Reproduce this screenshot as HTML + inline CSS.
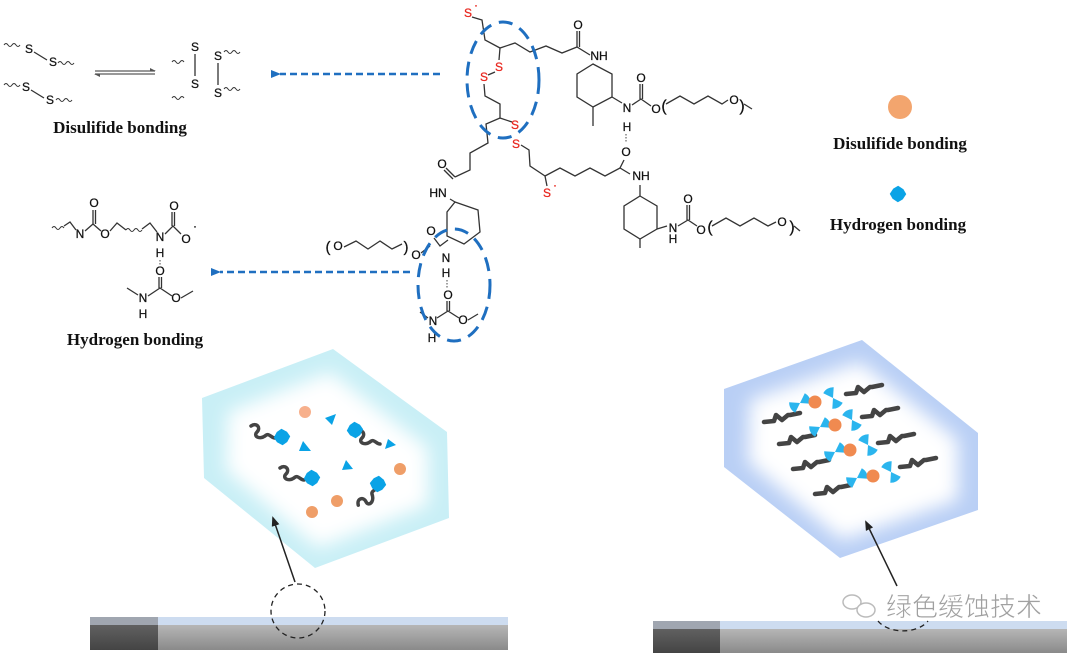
<!DOCTYPE html>
<html><head><meta charset="utf-8"><style>
html,body{margin:0;padding:0;background:#fff}
svg{display:block}
.c{font-family:"Liberation Sans",sans-serif;font-size:12px;fill:#111;text-anchor:middle;stroke:#111;stroke-width:0.25}
.r{fill:#e8241c;stroke:#e8241c}
.lbl{font-family:"Liberation Serif",serif;font-weight:bold;font-size:17px;fill:#111;text-anchor:middle}
.b{fill:none;stroke:#333;stroke-width:1.3}
.w{fill:none;stroke:#333;stroke-width:1}
</style></head><body>
<svg width="1080" height="655" viewBox="0 0 1080 655" xmlns="http://www.w3.org/2000/svg">
<defs>
<filter id="bl" x="-20%" y="-20%" width="140%" height="140%"><feGaussianBlur stdDeviation="9"/></filter>
<linearGradient id="bar" x1="0" y1="0" x2="0" y2="1">
<stop offset="0" stop-color="#c4c4c4"/><stop offset="1" stop-color="#8a8a8a"/></linearGradient>
<linearGradient id="barD" x1="0" y1="0" x2="0" y2="1">
<stop offset="0" stop-color="#6a6a6a"/><stop offset="1" stop-color="#444"/></linearGradient>
<marker id="ab" markerUnits="userSpaceOnUse" markerWidth="10" markerHeight="8" refX="1" refY="4" orient="auto"><path d="M10,0 L0,4 L10,8 z" fill="#1f6fc0"/></marker>
<marker id="ak" markerUnits="userSpaceOnUse" markerWidth="10" markerHeight="8" refX="8" refY="4" orient="auto"><path d="M0,0 L10,4 L0,8 z" fill="#222"/></marker>
<g id="blob"><path d="M-6,-4 L-2,-8 L4,-6 L8,-2 L6,4 L2,8 L-4,6 L-8,2 z" fill="#0aa3e6"/></g>
<g id="sq"><path d="M-12,-6 C-6,-10 -2,-4 -6,0 C-10,4 -4,8 2,4 C6,0 8,6 12,6" fill="none" stroke="#444" stroke-width="3.5" stroke-linecap="round"/></g>
<g id="sq2"><path d="M-18,4 L-8,3 L-6,-3 L0,2 L6,-3 L8,-3 L18,-5" fill="none" stroke="#444" stroke-width="4.5" stroke-linejoin="round" stroke-linecap="round"/></g>
<g id="bow"><path d="M0,0 L-9,-6 A11,11 0 0 0 -9,6 z M0,0 L9,-6 A11,11 0 0 1 9,6 z" fill="#2bb5ee"/></g>
</defs>

<!-- Left top: disulfide -->
<g>
<path class="w" d="M4,45 q2,-3 4,0 q2,3 4,0 q2,-3 4,0 q2,3 4,0"/>
<text class="c" x="29" y="53">S</text><line class="b" x1="34" y1="52" x2="47" y2="60"/><text class="c" x="53" y="66">S</text>
<path class="w" d="M58,63 q2,-3 4,0 q2,3 4,0 q2,-3 4,0 q2,3 4,0"/>
<path class="w" d="M4,85 q2,-3 4,0 q2,3 4,0 q2,-3 4,0 q2,3 4,0"/>
<text class="c" x="26" y="91">S</text><line class="b" x1="31" y1="90" x2="44" y2="98"/><text class="c" x="50" y="104">S</text>
<path class="w" d="M56,100 q2,-3 4,0 q2,3 4,0 q2,-3 4,0 q2,3 4,0"/>
<line x1="95" y1="71" x2="155" y2="71" stroke="#777" stroke-width="1.5"/>
<line x1="95" y1="74" x2="155" y2="74" stroke="#777" stroke-width="1.5"/>
<path d="M150,68 L156,71 L150,71z M100,77 L94,74 L100,74z" fill="#555"/>
<path class="w" d="M172,62 q2,-3 4,0 q2,3 4,0 q2,-3 4,0"/>
<text class="c" x="195" y="51">S</text><line class="b" x1="195" y1="54" x2="195" y2="76"/><text class="c" x="195" y="88">S</text>
<path class="w" d="M172,98 q2,-3 4,0 q2,3 4,0 q2,-3 4,0"/>
<text class="c" x="218" y="60">S</text><line class="b" x1="218" y1="63" x2="218" y2="85"/><text class="c" x="218" y="97">S</text>
<path class="w" d="M224,52 q2,-3 4,0 q2,3 4,0 q2,-3 4,0 q2,3 4,0"/>
<path class="w" d="M224,89 q2,-3 4,0 q2,3 4,0 q2,-3 4,0 q2,3 4,0"/>
<text class="lbl" x="120" y="133">Disulifide bonding</text>
</g>

<!-- Left: hydrogen bonding structure -->
<g>
<path class="w" d="M52,228 q2,-3 4,0 q2,3 4,0 q2,-3 4,0"/>
<polyline class="b" points="64,226 70,222 76,230"/>
<text class="c" x="80" y="238">N</text>
<polyline class="b" points="85,231 93,224 101,231"/><line class="b" x1="93" y1="224" x2="93" y2="210"/><line class="b" x1="95.5" y1="224" x2="95.5" y2="210"/>
<text class="c" x="94" y="207">O</text><text class="c" x="105" y="238">O</text>
<polyline class="b" points="110,231 117,223 126,230"/>
<path class="w" d="M126,230 q2,-3 4,0 q2,3 4,0 q2,-3 4,0 q2,3 4,0"/>
<polyline class="b" points="142,229 150,223 157,232"/>
<text class="c" x="160" y="241">N</text>
<polyline class="b" points="165,234 173,226 181,234"/><line class="b" x1="172" y1="226" x2="172" y2="212"/><line class="b" x1="174.5" y1="226" x2="174.5" y2="212"/>
<text class="c" x="174" y="210">O</text><text class="c" x="186" y="243">O</text><text class="c" x="195" y="230">·</text>
<text class="c" x="160" y="257">H</text>
<line x1="160" y1="260" x2="160" y2="266" stroke="#444" stroke-dasharray="1.5,1.5"/>
<text class="c" x="160" y="275">O</text>
<line class="b" x1="159" y1="277" x2="159" y2="288"/><line class="b" x1="161.5" y1="277" x2="161.5" y2="288"/>
<polyline class="b" points="148,296 160,288 172,296"/>
<polyline class="b" points="127,288 138,295"/>
<text class="c" x="143" y="302">N</text><text class="c" x="143" y="318">H</text>
<text class="c" x="176" y="302">O</text><line class="b" x1="181" y1="298" x2="193" y2="291"/>
<text class="lbl" x="135" y="345">Hydrogen bonding</text>
</g>

<!-- blue dashed arrows -->
<line x1="440" y1="74" x2="280" y2="74" stroke="#1f6fc0" stroke-width="2.5" stroke-dasharray="7,4" marker-end="url(#ab)"/>
<line x1="410" y1="272" x2="220" y2="272" stroke="#1f6fc0" stroke-width="2.5" stroke-dasharray="7,4" marker-end="url(#ab)"/>

<!-- Central molecule -->
<g>
<text class="c r" x="468" y="17">S</text><text class="c r" x="476" y="9">·</text>
<polyline class="b" points="472,17 482,20 485,40 500,48 515,43 530,52 546,46 562,53 577,47 590,55"/>
<line class="b" x1="577" y1="47" x2="577" y2="31"/><line class="b" x1="579.5" y1="47" x2="579.5" y2="31"/>
<text class="c" x="578" y="29">O</text>
<text class="c" x="599" y="60">NH</text>
<polygon class="b" points="593,64 612,74 612,97 593,107 577,97 577,74"/>
<line class="b" x1="593" y1="107" x2="593" y2="126"/>
<line class="b" x1="612" y1="97" x2="622" y2="103"/>
<text class="c" x="627" y="112">N</text>
<polyline class="b" points="632,105 641,99 651,106"/><line class="b" x1="640" y1="99" x2="640" y2="84"/><line class="b" x1="642.5" y1="99" x2="642.5" y2="84"/>
<text class="c" x="641" y="82">O</text><text class="c" x="656" y="113">O</text>
<text class="c" x="664" y="111" style="font-size:16px">(</text>
<polyline class="b" points="666,104 680,96 694,104 708,96 722,104 728,100"/>
<text class="c" x="734" y="104">O</text><text class="c" x="742" y="111" style="font-size:16px">)</text>
<line class="b" x1="744" y1="104" x2="752" y2="109"/>
<text class="c" x="627" y="131">H</text>
<line x1="626" y1="134" x2="626" y2="143" stroke="#444" stroke-dasharray="1.5,1.5"/>
<text class="c" x="626" y="156">O</text>
<line class="b" x1="500" y1="48" x2="499" y2="60"/>
<text class="c r" x="499" y="71">S</text><line class="b" x1="495" y1="72" x2="488" y2="75"/><text class="c r" x="484" y="81">S</text>
<polyline class="b" points="484,84 485,96 500,104 500,118 512,122"/>
<text class="c r" x="515" y="129">S</text><text class="c r" x="516" y="148">S</text>
<polyline class="b" points="521,145 529,150 530,166 545,176 547,186"/>
<text class="c r" x="547" y="197">S</text><text class="c r" x="555" y="189">·</text>
<polyline class="b" points="545,176 560,168 575,176 590,168 605,176 620,168 630,174"/>
<line class="b" x1="620" y1="168" x2="624" y2="160"/>
<text class="c" x="641" y="180">NH</text>
<polygon class="b" points="640,196 657,206 657,229 640,239 624,229 624,206"/>
<line class="b" x1="640" y1="185" x2="640" y2="196"/>
<line class="b" x1="640" y1="239" x2="640" y2="248"/>
<line class="b" x1="657" y1="229" x2="667" y2="226"/>
<text class="c" x="673" y="232">N</text><text class="c" x="673" y="243">H</text>
<polyline class="b" points="678,226 688,220 697,226"/><line class="b" x1="687" y1="220" x2="687" y2="205"/><line class="b" x1="689.5" y1="220" x2="689.5" y2="205"/>
<text class="c" x="688" y="203">O</text><text class="c" x="701" y="234">O</text>
<text class="c" x="710" y="232" style="font-size:16px">(</text>
<polyline class="b" points="712,226 726,218 740,226 754,218 768,226 776,222"/>
<text class="c" x="782" y="226">O</text><text class="c" x="792" y="232" style="font-size:16px">)</text>
<line class="b" x1="794" y1="226" x2="800" y2="231"/>
<polyline class="b" points="500,118 486,124 488,143 470,153 470,170 455,177"/>
<line class="b" x1="455" y1="177" x2="446" y2="168"/><line class="b" x1="453" y1="179" x2="444" y2="170"/>
<text class="c" x="442" y="168">O</text>
<text class="c" x="438" y="197">HN</text>
<line class="b" x1="450" y1="199" x2="455" y2="202"/>
<polygon class="b" points="455,202 478,210 480,232 464,244 447,236 447,212"/>
<text class="c" x="431" y="235">O</text>
<polyline class="b" points="434,238 440,246 448,240"/>
<text class="c" x="446" y="262">N</text><text class="c" x="446" y="277">H</text>
<line x1="447" y1="280" x2="447" y2="288" stroke="#444" stroke-dasharray="1.5,1.5"/>
<text class="c" x="448" y="299">O</text>
<line class="b" x1="447" y1="301" x2="447" y2="311"/><line class="b" x1="449.5" y1="301" x2="449.5" y2="311"/>
<polyline class="b" points="437,318 448,311 459,318"/>
<text class="c" x="433" y="325">N</text><text class="c" x="432" y="342">H</text><line class="b" x1="420" y1="312" x2="428" y2="318"/>
<text class="c" x="463" y="324">O</text><line class="b" x1="468" y1="320" x2="478" y2="314"/>
<text class="c" x="328" y="252" style="font-size:15px">(</text>
<text class="c" x="338" y="250">O</text>
<polyline class="b" points="344,247 356,241 368,249 380,241 392,249 402,244"/>
<text class="c" x="406" y="252" style="font-size:15px">)</text>
<text class="c" x="416" y="259">O</text>
<line class="b" x1="421" y1="253" x2="430" y2="246"/>
</g>
<ellipse cx="503" cy="80" rx="36" ry="58" fill="none" stroke="#1f6fc0" stroke-width="3" stroke-dasharray="14,8"/>
<ellipse cx="454" cy="285" rx="36" ry="56" fill="none" stroke="#1f6fc0" stroke-width="3" stroke-dasharray="14,8"/>

<!-- Legend -->
<circle cx="900" cy="107" r="12" fill="#f3a56e"/>
<text class="lbl" x="900" y="149">Disulifide bonding</text>
<g transform="translate(898,194) rotate(15)"><use href="#blob"/></g>
<text class="lbl" x="898" y="230">Hydrogen bonding</text>

<!-- Left cube -->
<polygon points="202,398 333,349 447,432 449,518 315,568 204,478" fill="#c9eff6"/>
<polygon points="228,412 330,372 428,448 428,505 318,548 226,470" fill="#fff" filter="url(#bl)"/>
<g>
<circle cx="305" cy="412" r="6" fill="#f7b08c"/><circle cx="400" cy="469" r="6" fill="#ef9e68"/>
<circle cx="337" cy="501" r="6" fill="#ef9e68"/><circle cx="312" cy="512" r="6" fill="#ef9e68"/>
<path d="M325,418 l11,-4 l-4,11z" fill="#0aa3e6"/><path d="M299,451 l12,0 l-8,-10z" fill="#0aa3e6"/>
<path d="M342,470 l11,-1 l-7,-9z" fill="#0aa3e6"/><path d="M385,449 l11,-4 l-8,-6z" fill="#0aa3e6"/>
<g transform="translate(263,432)"><use href="#sq"/></g><g transform="translate(282,437) rotate(10)"><use href="#blob"/></g>
<g transform="translate(368,438)"><use href="#sq"/></g><g transform="translate(355,430) rotate(10)"><use href="#blob"/></g>
<g transform="translate(292,474)"><use href="#sq"/></g><g transform="translate(312,478) rotate(10)"><use href="#blob"/></g>
<g transform="translate(368,496) rotate(-70)"><use href="#sq"/></g><g transform="translate(378,484) rotate(20)"><use href="#blob"/></g>
</g>
<line x1="295" y1="582" x2="273" y2="518" stroke="#222" stroke-width="1.5" marker-end="url(#ak)"/>

<!-- Right cube -->
<polygon points="724,389 862,340 978,433 978,510 840,558 724,467" fill="#b9cff5"/>
<polygon points="750,400 860,362 958,440 958,500 842,540 748,462" fill="#fff" filter="url(#bl)"/>
<g>
<g transform="translate(782,418)"><use href="#sq2"/></g><g transform="translate(797,440)"><use href="#sq2"/></g>
<g transform="translate(811,465)"><use href="#sq2"/></g><g transform="translate(833,490)"><use href="#sq2"/></g>
<g transform="translate(864,390)"><use href="#sq2"/></g><g transform="translate(880,413)"><use href="#sq2"/></g>
<g transform="translate(896,439)"><use href="#sq2"/></g><g transform="translate(918,463)"><use href="#sq2"/></g>
<g transform="translate(800,403) rotate(-30)"><use href="#bow"/></g><g transform="translate(833,398) rotate(60)"><use href="#bow"/></g>
<g transform="translate(820,427) rotate(-30)"><use href="#bow"/></g><g transform="translate(852,420) rotate(60)"><use href="#bow"/></g>
<g transform="translate(835,452) rotate(-30)"><use href="#bow"/></g><g transform="translate(868,445) rotate(60)"><use href="#bow"/></g>
<g transform="translate(857,478) rotate(-30)"><use href="#bow"/></g><g transform="translate(891,472) rotate(60)"><use href="#bow"/></g>
<circle cx="815" cy="402" r="6.5" fill="#f08a50"/><circle cx="835" cy="425" r="6.5" fill="#f08a50"/>
<circle cx="850" cy="450" r="6.5" fill="#f08a50"/><circle cx="873" cy="476" r="6.5" fill="#f08a50"/>
</g>
<line x1="897" y1="586" x2="866" y2="522" stroke="#222" stroke-width="1.5" marker-end="url(#ak)"/>

<!-- Bars -->
<rect x="90" y="617" width="418" height="33" fill="url(#bar)"/>
<rect x="90" y="617" width="68" height="33" fill="url(#barD)"/>
<rect x="90" y="617" width="418" height="8" fill="#cddcf0"/>
<rect x="90" y="617" width="68" height="8" fill="#a0a6b0"/>
<circle cx="298" cy="611" r="27" fill="none" stroke="#222" stroke-width="1.3" stroke-dasharray="5,4"/>
<rect x="653" y="621" width="414" height="32" fill="url(#bar)"/>
<rect x="653" y="621" width="67" height="32" fill="url(#barD)"/>
<rect x="653" y="621" width="414" height="8" fill="#cddcf0"/>
<rect x="653" y="621" width="67" height="8" fill="#a0a6b0"/>
<path d="M878,621 A28,18 0 0 0 928,621" fill="none" stroke="#222" stroke-width="1.3" stroke-dasharray="5,4"/>
<ellipse cx="852" cy="602" rx="9" ry="7" fill="none" stroke="#bbb" stroke-width="1.5"/>
<ellipse cx="866" cy="610" rx="9" ry="7" fill="#fff" stroke="#bbb" stroke-width="1.5"/>
<text x="886" y="616" style="font-family:'Liberation Sans','Noto Sans CJK SC',sans-serif;font-size:26px;fill:#a0a0a0;stroke:#fff;stroke-width:0.6">绿色缓蚀技术</text>
</svg>
</body></html>
